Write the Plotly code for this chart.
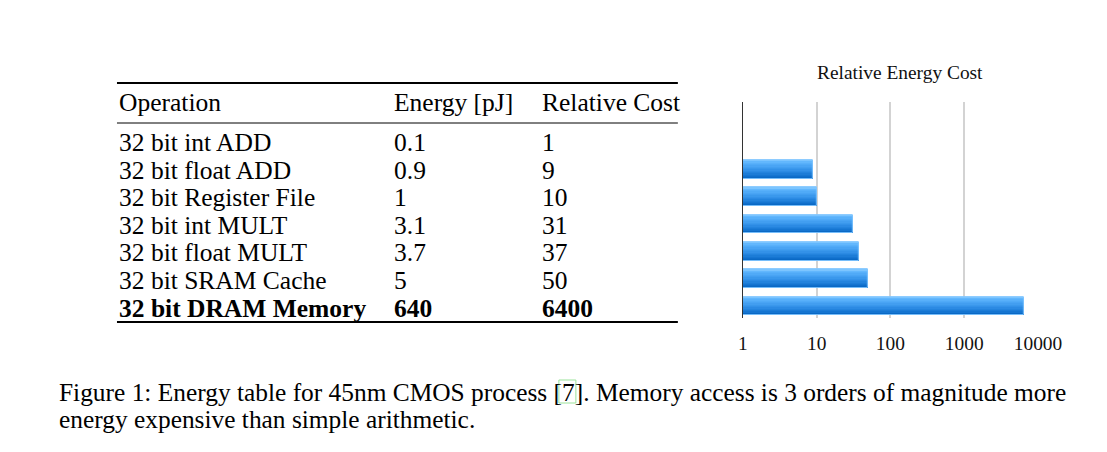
import plotly.graph_objects as go

# ---------------- data ----------------
header = ["Operation", "Energy [pJ]", "Relative Cost"]
operations = ["32 bit int ADD", "32 bit float ADD", "32 bit Register File",
              "32 bit int MULT", "32 bit float MULT", "32 bit SRAM Cache",
              "32 bit DRAM Memory"]
energy_pj = [0.1, 0.9, 1, 3.1, 3.7, 5, 640]
relative_cost = [1, 9, 10, 31, 37, 50, 6400]
bold_rows = [False, False, False, False, False, False, True]
x_ticks = [1, 10, 100, 1000, 10000]
x_tick_labels = ["1", "10", "100", "1000", "10000"]
chart_title = "Relative Energy Cost"
caption_lines = [
    "Figure 1: Energy table for 45nm CMOS process [7]. Memory access is 3 orders of magnitude more",
    "energy expensive than simple arithmetic.",
]

# ---------------- layout helpers ----------------
W, H = 1107, 452
SERIF = "Liberation Serif, Times New Roman, serif"


def px(x):
    return ((x - 6) / 0.974) / W


def py(y):
    return 1 - y / H


fig = go.Figure()

# ---------------- bar chart (gradient via overlaid bands) ----------------
band_colors = ["#7cc5ff", "#62b7fd", "#58b0fa", "#50aaf7", "#49a4f4", "#429ef0",
               "#3a98ec", "#3391e8", "#2b8ae3", "#2383dd", "#1c7cd7", "#1575d1",
               "#0f6ecb", "#0a69c5"]
bar_w = 0.68
nb = len(band_colors)
ypos = list(range(len(operations)))
for k, col in enumerate(band_colors):
    fig.add_trace(go.Bar(
        x=relative_cost, y=ypos, orientation="h",
        width=bar_w - k * bar_w / nb,
        offset=-bar_w / 2 + k * bar_w / nb,
        marker=dict(color=col, line=dict(width=0)),
        xaxis="x", yaxis="y", showlegend=False, hoverinfo="skip",
    ))
# light outline
fig.add_trace(go.Bar(
    x=relative_cost, y=ypos, orientation="h", width=bar_w, offset=-bar_w / 2,
    marker=dict(color="rgba(0,0,0,0)", line=dict(width=1, color="rgba(130,198,255,0.9)")),
    showlegend=False, hoverinfo="skip",
))

fig.update_layout(
    width=W, height=H, autosize=False, margin=dict(l=0, r=0, t=0, b=0),
    paper_bgcolor="white", plot_bgcolor="white",
    barmode="overlay", bargap=0,
    xaxis=dict(
        type="log", range=[0, 4.004],
        domain=[px(744), px(1039.5)],
        tickvals=x_ticks, ticktext=x_tick_labels,
        tickfont=dict(family=SERIF, size=19.4, color="#111"),
        showgrid=True, gridcolor="#d3d3d3", gridwidth=1.5,
        zeroline=False, showline=False, ticks="", ticklabelstandoff=12,
    ),
    yaxis=dict(
        range=[6.44, -1.46], domain=[py(318), py(102)],
        showticklabels=False, showgrid=False, zeroline=False,
        showline=True, linecolor="#333333", linewidth=1, ticks="",
    ),
)

annotations = []
shapes = []

# chart title
annotations.append(dict(text=chart_title, x=px(901), y=py(73), xref="paper", yref="paper",
                        xanchor="center", yanchor="middle", showarrow=False,
                        font=dict(family=SERIF, size=19.4, color="#111")))

# ---------------- table ----------------
col_x = [118, 393, 541]
header_y = 102
row_y0, row_dy = 142.5, 27.6
TF = 25.5
for c, h in enumerate(header):
    annotations.append(dict(text=h, x=px(col_x[c]), y=py(header_y), xref="paper", yref="paper",
                            xanchor="left", yanchor="middle", showarrow=False,
                            font=dict(family=SERIF, size=TF, color="black")))
for i, op in enumerate(operations):
    cells = [op, f"{energy_pj[i]:g}", f"{relative_cost[i]:g}"]
    for c, t in enumerate(cells):
        txt = f"<b>{t}</b>" if bold_rows[i] else t
        annotations.append(dict(text=txt, x=px(col_x[c]), y=py(row_y0 + i * row_dy),
                                xref="paper", yref="paper", xanchor="left", yanchor="middle",
                                showarrow=False, font=dict(family=SERIF, size=TF, color="black")))

for yy, lw in [(83, 2), (123, 1), (322, 2)]:
    shapes.append(dict(type="line", xref="paper", yref="paper", x0=px(118), x1=px(679),
                       y0=py(yy), y1=py(yy), line=dict(color="black", width=lw)))

# ---------------- caption ----------------
for j, line in enumerate(caption_lines):
    annotations.append(dict(text=line, x=px(58), y=py(392 + j * 27), xref="paper", yref="paper",
                            xanchor="left", yanchor="middle", showarrow=False,
                            font=dict(family=SERIF, size=25.4, color="black")))
# citation link box around "7"
shapes.append(dict(type="rect", xref="paper", yref="paper", x0=px(560), x1=px(577),
                   y0=py(403), y1=py(380), line=dict(color="#9be39b", width=1)))

fig.update_layout(annotations=annotations, shapes=shapes)
fig.write_html("out.html", config={"responsive": False, "displayModeBar": False},
               post_script="document.body.style.margin='0';document.body.style.overflow='hidden';")
